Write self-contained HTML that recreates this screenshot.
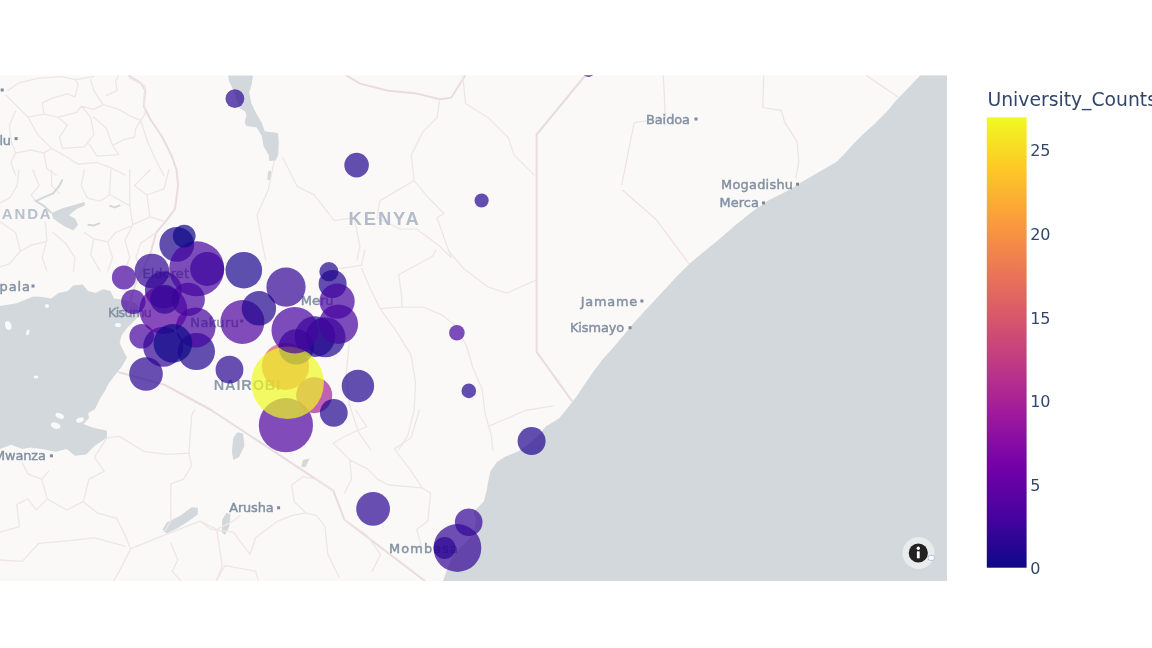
<!DOCTYPE html>
<html><head><meta charset="utf-8"><title>University Counts</title>
<style>
html,body{margin:0;padding:0;background:#fff;}
body{width:1152px;height:648px;overflow:hidden;position:relative;font-family:"Liberation Sans",Arial,sans-serif;}
svg{position:absolute;left:0;top:0;display:block;}
</style></head><body>
<svg width="1152" height="648" viewBox="0 0 1152 648">
<defs>
<clipPath id="mapclip"><rect x="0" y="75.2" width="947" height="505.8"/></clipPath>
<linearGradient id="plasma" x1="0" y1="0" x2="0" y2="1"><stop offset="0.000" stop-color="#f0f921"/><stop offset="0.111" stop-color="#fdca26"/><stop offset="0.222" stop-color="#fb9f3a"/><stop offset="0.333" stop-color="#ed7953"/><stop offset="0.444" stop-color="#d8576b"/><stop offset="0.556" stop-color="#bd3786"/><stop offset="0.667" stop-color="#9c179e"/><stop offset="0.778" stop-color="#7201a8"/><stop offset="0.889" stop-color="#46039f"/><stop offset="1.000" stop-color="#0d0887"/></linearGradient>
</defs>
<rect x="0" y="0" width="1152" height="648" fill="#ffffff"/>
<g clip-path="url(#mapclip)">
<rect x="0" y="75.2" width="947" height="505.8" fill="#faf9f8"/>
<path d="M920.4 75.2 L907.5 88.8 L897.1 99.2 L886.7 111.7 L874.2 124.2 L863.8 133.5 L853.3 144.0 L845.0 153.3 L836.7 161.7 L824.2 169.0 L811.7 176.2 L799.2 183.5 L789.2 190.0 L768.3 200.4 L751.7 211.9 L735.0 225.4 L718.3 240.0 L701.7 253.5 L689.2 264.0 L676.7 276.5 L664.2 290.0 L651.7 303.5 L645.6 310.0 L634.2 322.5 L623.8 335.0 L613.3 347.5 L602.9 359.0 L593.5 371.5 L584.2 385.0 L575.8 397.5 L567.5 407.9 L559.2 418.3 L550.8 423.5 L545.6 426.6 L541.6 431.8 L530.0 443.0 L518.0 451.5 L504.9 456.7 L497.0 462.0 L490.5 471.1 L487.9 483.0 L486.6 490.8 L483.9 501.3 L477.4 507.9 L473.4 511.8 L476.0 520.0 L474.0 533.0 L466.0 542.0 L457.5 550.0 L451.0 560.0 L447.0 570.0 L443.0 581.0 L947.0 581.0 L947.0 75.2 Z" fill="#d2d8db"/>
<path d="M0.0 306.1 L16.7 303.3 L33.3 296.4 L40.0 296.7 L51.1 298.5 L58.5 293.0 L67.8 291.1 L73.3 285.6 L82.6 284.6 L88.1 291.1 L95.6 293.0 L103.0 289.3 L110.4 291.1 L114.1 298.5 L125.0 300.0 L135.0 303.0 L141.0 309.0 L139.0 316.0 L132.6 322.6 L127.0 328.1 L121.5 335.6 L119.6 343.0 L123.3 350.4 L127.0 357.8 L121.5 367.0 L114.1 376.3 L108.5 383.7 L104.8 391.1 L99.3 400.0 L95.0 408.9 L88.3 413.0 L88.9 418.3 L83.3 423.9 L91.7 427.2 L106.9 430.8 L106.9 437.8 L94.4 446.1 L86.1 454.4 L75.0 455.8 L66.7 448.9 L55.6 451.7 L41.7 448.9 L30.6 447.5 L22.2 448.9 L11.1 444.7 L0.0 448.9 Z" fill="#d2d8db"/>
<ellipse cx="8.3" cy="325.6" rx="3.0" ry="4.5" transform="rotate(-20 8.3 325.6)" fill="#faf9f8"/>
<ellipse cx="27.8" cy="332.5" rx="1.5" ry="3.0" transform="rotate(20 27.8 332.5)" fill="#faf9f8"/>
<ellipse cx="36.0" cy="377.0" rx="2.5" ry="1.5" transform="rotate(0 36.0 377.0)" fill="#faf9f8"/>
<ellipse cx="59.7" cy="415.8" rx="4.5" ry="2.5" transform="rotate(25 59.7 415.8)" fill="#faf9f8"/>
<ellipse cx="55.6" cy="425.6" rx="5.0" ry="3.0" transform="rotate(20 55.6 425.6)" fill="#faf9f8"/>
<ellipse cx="80.0" cy="420.0" rx="4.0" ry="2.5" transform="rotate(-20 80.0 420.0)" fill="#faf9f8"/>
<ellipse cx="12.0" cy="300.0" rx="6.0" ry="2.5" transform="rotate(10 12.0 300.0)" fill="#faf9f8"/>
<ellipse cx="47.0" cy="306.0" rx="2.0" ry="2.0" transform="rotate(0 47.0 306.0)" fill="#faf9f8"/>
<ellipse cx="118.0" cy="325.0" rx="3.0" ry="2.0" transform="rotate(0 118.0 325.0)" fill="#faf9f8"/>
<path d="M228.1 75.6 L229.2 81.6 L232.4 88.1 L240.0 108.6 L245.4 111.8 L246.4 115.1 L244.7 122.6 L246.4 125.9 L256.6 127.4 L261.6 135.6 L263.7 146.4 L268.7 155.0 L269.1 161.1 L275.6 160.4 L278.2 155.0 L278.8 142.1 L277.8 133.0 L264.8 131.3 L261.6 122.6 L256.6 114.0 L251.4 103.2 L249.2 92.4 L251.8 83.8 L252.9 75.6 Z" fill="#d2d8db"/>
<path d="M268.0 171.2 L271.3 170.6 L270.4 179.9 L267.4 179.9 Z" fill="#d2d8db"/>
<path d="M162.5 529.4 L166.7 522.5 L180.6 515.6 L191.7 507.2 L197.8 507.8 L197.8 514.2 L188.9 521.1 L177.8 528.1 L166.7 533.6 Z" fill="#d2d8db"/>
<path d="M222.2 519.7 L226.4 512.8 L230.6 514.2 L229.2 526.7 L225.0 535.0 L221.7 532.2 Z" fill="#d2d8db"/>
<path d="M233.3 437.8 L237.5 432.2 L243.1 433.6 L244.4 446.1 L238.9 457.2 L233.3 460.0 L231.9 451.7 Z" fill="#d2d8db"/>
<path d="M302.8 460.0 L309.7 458.6 L305.6 466.9 L301.4 466.9 Z" fill="#d2d8db"/>
<path d="M585.2 75.5 L536.6 134.5 L536.6 351.8 L572.3 401.5" stroke="#eadcde" stroke-width="2" fill="none" stroke-linejoin="round"/>
<path d="M118.0 372.0 L165.0 385.0 L211.1 410.0 L333.3 490.6 L344.4 519.7 L425.0 581.0" stroke="#eadcde" stroke-width="2" fill="none" stroke-linejoin="round"/>
<path d="M128.1 75.2 L140.6 82.8 L145.3 90.6 L143.8 106.2 L150.0 118.8 L162.5 137.5 L171.9 156.2 L176.6 170.0 L178.1 185.6 L175.0 209.0 L165.6 221.6 L156.2 232.5 L150.0 255.0 L135.0 285.0 L128.0 310.0" stroke="#eadcde" stroke-width="2" fill="none" stroke-linejoin="round"/>
<path d="M345.6 75.0 L359.9 83.6 L388.4 90.7 L417.0 93.6 L439.8 99.3 L451.2 97.8 L465.5 75.0" stroke="#eadcde" stroke-width="2" fill="none" stroke-linejoin="round"/>
<path d="M763.8 75.2 L762.7 107.5 L781.5 110.6 L784.6 122.1 L797.1 141.9 L798.8 161.7 L796.0 178.3" stroke="#efe1e2" stroke-width="1.2" fill="none" stroke-linejoin="round"/>
<path d="M865.8 75.2 L898.1 97.1" stroke="#efe1e2" stroke-width="1.2" fill="none" stroke-linejoin="round"/>
<path d="M663.3 75.2 L665.4 118.3 L634.2 122.5 L621.7 185.0" stroke="#efe1e2" stroke-width="1.2" fill="none" stroke-linejoin="round"/>
<path d="M622.5 190.0 L655.8 219.2 L689.2 264.0" stroke="#efe1e2" stroke-width="1.2" fill="none" stroke-linejoin="round"/>
<path d="M7.8 90.6 L18.8 82.8 L39.1 78.1 L62.5 76.6 L75.0 79.7 L93.8 76.6 M6.2 95.3 L15.6 104.7 L28.1 117.2 L37.5 134.4 L51.6 148.4 L65.6 156.2 L78.1 164.1 L96.9 162.5 L109.4 167.2 L125.0 175.0 M42.2 103.1 L51.6 98.4 L67.2 93.8 L75.0 96.9 L78.1 84.4 L75.0 79.7 M42.2 103.1 L43.8 114.1 L28.1 117.2 M43.8 114.1 L57.8 117.2 L76.6 112.5 L81.2 106.2 L93.8 109.4 L103.1 104.7 L93.8 90.6 L90.6 79.7 M103.1 104.7 L118.8 109.4 L132.8 117.2 L140.6 120.3 L145.3 114.1 L143.8 98.4 L145.3 85.9 L129.7 78.1 M106.2 95.3 L117.2 90.6 L115.6 81.2 L118.8 75.0 M57.8 117.2 L67.2 125.0 L59.4 137.5 L62.5 148.4 L84.4 146.9 L93.8 134.4 L90.6 117.2 L81.2 106.2 M93.8 117.2 L106.2 128.1 L112.5 145.3 L118.8 154.7 L96.9 156.2 L89.1 143.8 M112.5 145.3 L125.0 139.1 L134.4 137.5 L135.9 128.1 L140.6 120.3 M140.6 120.3 L148.4 143.8 L156.2 160.9 L164.1 175.9 M9.4 125.0 L15.6 110.9 M9.4 125.0 L10.9 140.6 L15.6 153.1 L10.9 162.5 L15.6 175.0 M15.6 153.1 L31.2 150.0 L43.8 153.1 L51.6 148.4 M43.8 153.1 L46.9 168.8 L56.2 175.0" stroke="#efe5e6" stroke-width="1.3" fill="none" stroke-linejoin="round" stroke-linecap="round"/>
<path d="M18.8 170.0 L17.2 185.6 L9.4 198.1 L0.0 202.8 M32.8 170.0 L39.1 185.6 L31.2 195.0 L35.9 201.2 M51.6 170.0 L51.6 185.6 L59.4 193.4 M84.4 170.0 L81.2 185.6 L87.5 198.1 L100.0 201.2 L109.4 195.0 L110.9 170.0 M110.9 195.0 L129.7 205.9 L129.7 170.0 M129.7 205.9 L132.8 224.7 L125.0 240.3 L129.7 257.5 L125.0 270.9 M134.4 185.6 L150.0 170.0 M134.4 185.6 L146.9 195.0 L164.1 188.8 L168.8 170.0 M0.0 221.6 L15.6 232.5 L20.3 251.2 L9.4 263.8 L0.0 266.9 M45.3 221.6 L46.9 240.3 L42.2 257.5 L46.9 270.9 M53.1 232.5 L65.6 243.4 L75.0 257.5 L73.4 270.9 M84.4 232.5 L93.8 238.8 L107.8 241.9 L115.6 232.5 L131.2 226.2 M93.8 238.8 L90.6 254.4 L100.0 270.9 M107.8 241.9 L112.5 257.5 L107.8 270.9 M132.8 224.7 L150.0 216.9 L165.6 221.6 M20.3 251.2 L31.2 245.0 L45.3 241.9 M146.9 195.0 L150.0 216.9 M156.2 232.5 L140.6 243.4 L135.9 257.5 L140.6 270.9" stroke="#efe5e6" stroke-width="1.3" fill="none" stroke-linejoin="round" stroke-linecap="round"/>
<path d="M106.9 437.8 L119.4 436.4 L144.4 451.7 L166.7 454.4 L188.9 453.1 L191.7 415.6 L194.4 410.0 M188.9 453.1 L191.7 465.6 L183.3 479.4 L170.8 483.6 L170.8 521.1 L163.9 532.2 M106.9 437.8 L94.4 457.2 L104.2 471.1 L88.9 479.4 L83.3 501.7 L66.7 510.0 L47.2 498.9 L41.7 479.4 L48.6 471.1 M83.3 501.7 L97.2 512.8 L116.7 518.3 L125.0 535.0 L130.6 548.9 L161.1 536.4 L200.0 521.1 L216.7 529.4 L233.3 521.1 M130.6 548.9 L122.2 565.6 L113.9 580.8 M41.7 479.4 L27.8 473.9 L22.2 462.8 M47.2 498.9 L36.1 510.0 L27.8 498.9 L16.7 504.4 L19.4 526.7 L0.0 532.2 M0.0 560.0 L22.2 561.4 L38.9 543.3 L69.4 540.6 L94.4 537.8 L125.0 546.1 M170.8 543.3 L177.8 560.0 L172.2 571.1 L180.6 580.8 M216.7 529.4 L222.2 565.6 L216.7 580.8 M233.3 521.1 L240.0 515.6" stroke="#efe5e6" stroke-width="1.3" fill="none" stroke-linejoin="round" stroke-linecap="round"/>
<path d="M333.3 443.3 L347.2 435.0 L366.7 426.7 L355.6 410.0 M333.3 443.3 L350.0 460.0 L366.7 468.3 L377.8 479.4 L388.9 485.0 L422.2 487.8 L430.6 493.3 M394.4 448.9 L411.1 437.8 L419.4 410.0 M394.4 448.9 L411.1 471.1 L422.2 487.8 M291.7 485.0 L302.8 476.7 L316.7 479.4 L333.3 490.6 M291.7 485.0 L294.4 501.7 L305.6 512.8 L316.7 515.6 L325.0 526.7 L327.8 554.4 L338.9 576.7 M350.0 460.0 L351.4 479.4 L344.4 493.3 M255.6 537.8 L277.8 521.1 L291.7 515.6 L305.6 512.8 M255.6 537.8 L250.0 554.4 L233.3 532.2 L211.1 529.4 L200.0 521.1 M216.7 579.4 L225.0 565.6 L255.6 571.1 L258.3 580.8 M344.4 519.7 L366.7 535.0 L380.6 554.4 L372.2 571.1 M430.6 493.3 L427.8 521.1 L416.7 529.4 L422.2 548.9" stroke="#efe5e6" stroke-width="1.3" fill="none" stroke-linejoin="round" stroke-linecap="round"/>
<path d="M439.8 99.3 L437.0 117.8 L422.7 132.1 L411.3 154.9 L414.1 180.6 L379.9 200.6 L377.0 217.7 M414.1 180.6 L428.4 197.8 L444.1 213.5 L437.0 217.7 L451.2 257.7 M462.7 75.0 L465.5 103.5 L488.4 117.8 L508.3 137.8 L514.1 154.9 L534.0 174.9 M282.8 157.8 L297.1 186.3 L314.2 194.9 L334.2 220.6 L354.2 217.7 L359.9 246.3 L357.0 260.0 M274.3 160.6 L268.5 189.2 L257.1 214.9 L262.8 246.3 L265.7 260.0 M377.0 217.7 L399.9 229.2 L417.0 229.2 L439.8 246.3 L451.2 257.7" stroke="#efe5e6" stroke-width="1.3" fill="none" stroke-linejoin="round" stroke-linecap="round"/>
<path d="M380.1 308.6 L401.7 307.1 L423.3 307.1 L441.9 314.8 L457.3 327.2 L466.5 345.7 L472.7 367.3 L482.0 388.9 L485.1 413.6 L491.2 435.2 L492.8 450.0 M448.0 250.0 L463.5 268.5 L488.1 287.0 L506.7 293.2 L537.5 279.3 M398.6 274.7 L401.7 296.3 L401.7 307.1 M398.6 274.7 L432.6 256.2 L435.7 250.0 M361.6 268.5 L370.9 290.1 L380.1 308.6 L395.6 330.2 L411.0 354.9 L415.6 382.7 L414.1 410.5 L407.9 435.2 L398.6 450.0 M349.3 342.6 L346.2 373.5 L349.3 404.3 L358.5 432.1 L370.9 450.0 M340.0 268.5 L361.6 265.4 L364.7 250.0 M489.7 425.9 L525.2 410.5 L553.0 405.9" stroke="#efe5e6" stroke-width="1.3" fill="none" stroke-linejoin="round" stroke-linecap="round"/>
<path d="M51.6 213.0 L62.5 208.3 L73.4 205.2 L84.4 202.0 L85.2 205.2 L76.6 209.1 L68.8 215.3 L75.0 218.4 L78.1 224.7 L73.4 230.2 L65.6 227.0 L59.4 223.1 L53.1 218.4 Z" fill="#d2d8db"/>
<path d="M51.6 213.0 L43.8 205.9 L35.9 201.2 L45.3 196.6 L53.1 193.4 L59.4 185.6 L62.5 179.4" stroke="#d2d8db" stroke-width="2" fill="none"/>
<path d="M109.4 205.6 L114.8 207.5 L120.3 205.2" stroke="#d2d8db" stroke-width="2" fill="none"/>
<path d="M87.5 224.7 L93.8 225.5 L100.0 223.1" stroke="#d2d8db" stroke-width="2" fill="none"/>
<text x="646.0" y="123.6" font-size="12.9" textLength="44.0" lengthAdjust="spacing" font-family="DejaVu Sans, Liberation Sans, sans-serif" fill="#8391a3" stroke="#8391a3" stroke-width="0.45" >Baidoa</text>
<rect x="694.5" y="117.5" width="3" height="3" fill="#7d8a9b"/>
<text x="721.0" y="188.8" font-size="12.9" textLength="72.0" lengthAdjust="spacing" font-family="DejaVu Sans, Liberation Sans, sans-serif" fill="#8391a3" stroke="#8391a3" stroke-width="0.45" >Mogadishu</text>
<rect x="796.0" y="182.7" width="3" height="3" fill="#7d8a9b"/>
<text x="719.4" y="207.1" font-size="12.9" textLength="39.6" lengthAdjust="spacing" font-family="DejaVu Sans, Liberation Sans, sans-serif" fill="#8391a3" stroke="#8391a3" stroke-width="0.45" >Merca</text>
<rect x="762.0" y="201.4" width="3" height="3" fill="#7d8a9b"/>
<text x="580.8" y="306.1" font-size="12.9" textLength="56.3" lengthAdjust="spacing" font-family="DejaVu Sans, Liberation Sans, sans-serif" fill="#8391a3" stroke="#8391a3" stroke-width="0.45" >Jamame</text>
<rect x="640.4" y="299.5" width="3" height="3" fill="#7d8a9b"/>
<text x="570.0" y="332.3" font-size="12.9" textLength="54.2" lengthAdjust="spacing" font-family="DejaVu Sans, Liberation Sans, sans-serif" fill="#8391a3" stroke="#8391a3" stroke-width="0.45" >Kismayo</text>
<rect x="628.5" y="326.2" width="3" height="3" fill="#7d8a9b"/>
<text x="229.2" y="512.4" font-size="12.9" textLength="44.4" lengthAdjust="spacing" font-family="DejaVu Sans, Liberation Sans, sans-serif" fill="#8391a3" stroke="#8391a3" stroke-width="0.45" >Arusha</text>
<rect x="277.1" y="506.3" width="3" height="3" fill="#7d8a9b"/>
<text x="388.9" y="552.9" font-size="12.9" textLength="69.1" lengthAdjust="spacing" font-family="DejaVu Sans, Liberation Sans, sans-serif" fill="#8391a3" stroke="#8391a3" stroke-width="0.45" >Mombasa</text>
<text x="-6.0" y="460.4" font-size="12.9" textLength="51.8" lengthAdjust="spacing" font-family="DejaVu Sans, Liberation Sans, sans-serif" fill="#8391a3" stroke="#8391a3" stroke-width="0.45" >Mwanza</text>
<rect x="49.9" y="454.3" width="3" height="3" fill="#7d8a9b"/>
<text x="-32.0" y="291.1" font-size="12.9" textLength="62.0" lengthAdjust="spacing" font-family="DejaVu Sans, Liberation Sans, sans-serif" fill="#8391a3" stroke="#8391a3" stroke-width="0.45" >Kampala</text>
<rect x="31.5" y="284.5" width="3" height="3" fill="#7d8a9b"/>
<text x="-18.0" y="144.6" font-size="12.9" textLength="29.0" lengthAdjust="spacing" font-family="DejaVu Sans, Liberation Sans, sans-serif" fill="#8391a3" stroke="#8391a3" stroke-width="0.45" >Gulu</text>
<rect x="14.6" y="137.1" width="3" height="3" fill="#7d8a9b"/>
<rect x="0.7" y="88.5" width="3" height="3" fill="#7d8a9b"/>
<text x="108.0" y="316.6" font-size="12.9" textLength="44.0" lengthAdjust="spacing" font-family="DejaVu Sans, Liberation Sans, sans-serif" fill="#8391a3" stroke="#8391a3" stroke-width="0.45" >Kisumu</text>
<text x="190.3" y="327.1" font-size="13.0" textLength="48.6" lengthAdjust="spacing" font-family="DejaVu Sans, Liberation Sans, sans-serif" fill="#8391a3" stroke="#8391a3" stroke-width="0.45" >Nakuru</text>
<rect x="240.2" y="319.5" width="3" height="3" fill="#7d8a9b"/>
<text x="142.4" y="278.2" font-size="13.0" textLength="46.6" lengthAdjust="spacing" font-family="DejaVu Sans, Liberation Sans, sans-serif" fill="#8391a3" stroke="#8391a3" stroke-width="0.45" >Eldoret</text>
<text x="300.8" y="305.2" font-size="13.0" textLength="32.7" lengthAdjust="spacing" font-family="DejaVu Sans, Liberation Sans, sans-serif" fill="#8391a3" stroke="#8391a3" stroke-width="0.45" >Meru</text>
<text x="348.6" y="225.1" font-size="18.4" textLength="70.2" lengthAdjust="spacing" font-family="Liberation Sans, Arial, sans-serif" font-weight="bold" fill="#b3bdc9">KENYA</text>
<text x="-24.3" y="219.4" font-size="15" textLength="75" lengthAdjust="spacing" font-family="Liberation Sans, Arial, sans-serif" font-weight="bold" fill="#b9c0cc">UGANDA</text>
<text x="213.7" y="389.6" font-size="14.5" textLength="66.5" lengthAdjust="spacing" font-family="Liberation Sans, Arial, sans-serif" font-weight="bold" fill="#8e9bab">NAIROBI</text>
<g fill-opacity="0.7">
<circle cx="243.8" cy="270.2" r="18.3" fill="#1a078d"/>
<circle cx="196.4" cy="351.5" r="18.6" fill="#20068f"/>
<circle cx="151.9" cy="271.0" r="17.3" fill="#330597"/>
<circle cx="123.9" cy="277.5" r="12.0" fill="#46039f"/>
<circle cx="207.2" cy="268.9" r="17.0" fill="#20068f"/>
<circle cx="325.5" cy="337.3" r="20.0" fill="#20068f"/>
<circle cx="456.9" cy="332.8" r="7.8" fill="#46039f"/>
<circle cx="141.7" cy="336.2" r="12.3" fill="#46039f"/>
<circle cx="332.6" cy="284.0" r="14.0" fill="#20068f"/>
<circle cx="285.9" cy="425.2" r="27.1" fill="#4d03a0"/>
<circle cx="163.4" cy="290.0" r="18.5" fill="#330597"/>
<circle cx="195.6" cy="327.5" r="19.9" fill="#46039f"/>
<circle cx="285.5" cy="366.3" r="23.6" fill="#d8576b"/>
<circle cx="468.7" cy="522.3" r="13.8" fill="#330597"/>
<circle cx="315.0" cy="336.6" r="20.3" fill="#20068f"/>
<circle cx="163.2" cy="346.7" r="20.0" fill="#330597"/>
<circle cx="163.3" cy="310.0" r="24.0" fill="#5502a2"/>
<circle cx="357.9" cy="386.0" r="16.2" fill="#20068f"/>
<circle cx="444.6" cy="548.0" r="11.0" fill="#16078b"/>
<circle cx="286.0" cy="287.1" r="19.6" fill="#330597"/>
<circle cx="531.6" cy="441.1" r="14.0" fill="#20068f"/>
<circle cx="314.2" cy="395.2" r="18.0" fill="#a72296"/>
<circle cx="333.8" cy="412.8" r="13.9" fill="#20068f"/>
<circle cx="588.5" cy="71.0" r="6.0" fill="#20068f"/>
<circle cx="356.6" cy="165.1" r="12.3" fill="#20068f"/>
<circle cx="337.1" cy="301.2" r="17.6" fill="#46039f"/>
<circle cx="146.0" cy="374.0" r="16.8" fill="#2a0693"/>
<circle cx="457.4" cy="548.0" r="23.9" fill="#330597"/>
<circle cx="296.3" cy="346.9" r="17.7" fill="#20068f"/>
<circle cx="287.6" cy="382.8" r="36.3" fill="#f0f921"/>
<circle cx="242.4" cy="322.0" r="22.0" fill="#4d03a0"/>
<circle cx="188.2" cy="299.4" r="16.7" fill="#46039f"/>
<circle cx="229.5" cy="369.7" r="13.9" fill="#2a0693"/>
<circle cx="172.9" cy="343.4" r="19.3" fill="#0d0887"/>
<circle cx="258.9" cy="308.3" r="17.2" fill="#20068f"/>
<circle cx="294.8" cy="330.2" r="23.3" fill="#46039f"/>
<circle cx="328.9" cy="271.7" r="9.6" fill="#20068f"/>
<circle cx="133.3" cy="301.8" r="12.2" fill="#46039f"/>
<circle cx="373.1" cy="508.9" r="16.9" fill="#2a0693"/>
<circle cx="468.8" cy="390.9" r="7.3" fill="#20068f"/>
<circle cx="338.4" cy="324.3" r="19.7" fill="#46039f"/>
<circle cx="176.8" cy="244.4" r="17.4" fill="#20068f"/>
<circle cx="234.9" cy="98.6" r="9.4" fill="#2a0693"/>
<circle cx="196.7" cy="268.8" r="27.5" fill="#46039f"/>
<circle cx="164.7" cy="299.3" r="14.5" fill="#330597"/>
<circle cx="481.6" cy="200.5" r="7.1" fill="#20068f"/>
<circle cx="184.2" cy="236.1" r="11.4" fill="#0d0887"/>
</g>
<circle cx="918.5" cy="553" r="16" fill="#ffffff" fill-opacity="0.5"/>
<circle cx="918.3" cy="553" r="9.6" fill="#222222"/>
<rect x="916.9" y="551.3" width="2.8" height="7" fill="#ffffff"/>
<circle cx="918.3" cy="548.2" r="1.7" fill="#ffffff"/>
<rect x="928.2" y="555.4" width="6.4" height="5" rx="2" fill="#ffffff" fill-opacity="0.8" stroke="#aab4cf" stroke-width="0.8"/>
</g>
<rect x="986.8" y="117.3" width="39.8" height="450.4" fill="url(#plasma)"/>
<g font-family="DejaVu Sans, Verdana, Liberation Sans, sans-serif" fill="#33466a">
<text x="987.5" y="105.8" font-size="18.75" id="cbtitle">University_Counts</text>
<g font-size="16">
<text x="1030.2" y="573.6">0</text>
<text x="1030.2" y="490.9">5</text>
<text x="1030.2" y="406.7">10</text>
<text x="1030.2" y="324.2">15</text>
<text x="1030.2" y="240.1">20</text>
<text x="1030.2" y="155.5">25</text>
</g></g>
</svg>
</body></html>
